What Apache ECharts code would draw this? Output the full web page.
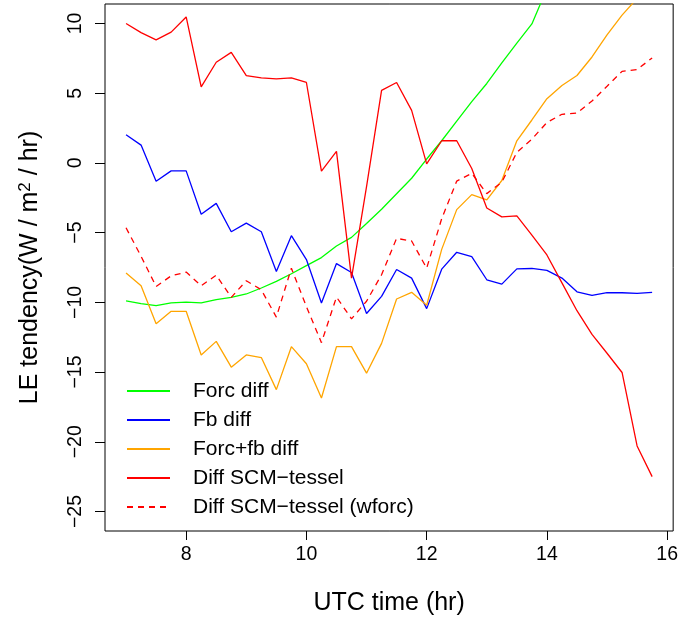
<!DOCTYPE html>
<html>
<head>
<meta charset="utf-8">
<title>LE tendency</title>
<script src="https://cdn.jsdelivr.net/npm/echarts@6/dist/echarts.min.js"></script>
<style>
    html, body { margin: 0; padding: 0; background: #fff; }
    #chart { width: 681px; height: 621px; }
</style>
</head>
<body>
<div id="chart"></div>
<script>
    // time axis (UTC hr), every 15 min from 7 to 15.75
    var times = [7, 7.25, 7.5, 7.75, 8, 8.25, 8.5, 8.75, 9, 9.25, 9.5, 9.75,
        10, 10.25, 10.5, 10.75, 11, 11.25, 11.5, 11.75, 12, 12.25, 12.5, 12.75,
        13, 13.25, 13.5, 13.75, 14, 14.25, 14.5, 14.75, 15, 15.25, 15.5, 15.75];
    var xTicks = [8, 10, 12, 14, 16];
    var yTicks = [-25, -20, -15, -10, -5, 0, 5, 10];

    var forcDiff = [-9.9, -10.09, -10.23, -10.04, -9.99, -10.04, -9.8, -9.64, -9.4, -8.97,
        -8.5, -7.95, -7.37, -6.79, -5.96, -5.34, -4.34, -3.32, -2.21, -1.1,
        0.28, 1.59, 3.0, 4.4, 5.7, 7.17, 8.6, 9.97, 12.5, null,
        null, null, null, null, null, null];
    var fbDiff = [2.02, 1.28, -1.31, -0.57, -0.57, -3.68, -2.9, -4.94, -4.32, -4.94,
        -7.79, -5.22, -6.93, -10.04, -7.22, -7.86, -10.8, -9.57, -7.64, -8.26,
        -10.45, -7.62, -6.41, -6.72, -8.38, -8.69, -7.6, -7.57, -7.71, -8.26,
        -9.24, -9.5, -9.31, -9.31, -9.35, -9.28];
    var forcFbDiff = [-7.9, -8.81, -11.54, -10.64, -10.64, -13.77, -12.8, -14.65, -13.77, -13.96,
        -16.26, -13.18, -14.4, -16.86, -13.18, -13.18, -15.08, -12.94, -9.76, -9.28,
        -10.21, -6.2, -3.35, -2.27, -2.65, -1.26, 1.59, 3.08, 4.61, 5.56,
        6.27, 7.6, 9.19, 10.6, 11.8, null];
    var scmTessel = [10.0, 9.35, 8.83, 9.38, 10.47, 5.46, 7.22, 7.93, 6.27, 6.10,
        6.03, 6.10, 5.77, -0.59, 0.83, -8.26, -1.7, 5.2, 5.77, 3.77,
        -0.07, 1.59, 1.59, -0.4, -3.23, -3.87, -3.8, -5.18, -6.6, -8.6,
        -10.6, -12.3, -13.65, -15.03, -20.3, -22.5];
    var scmTesselWforc = [-4.65, -6.7, -8.86, -8.1, -7.83, -8.81, -8.05, -9.64, -8.45, -9.1,
        -11.06, -7.55, -10.3, -12.89, -9.62, -11.18, -9.92, -8.02, -5.41, -5.6,
        -7.55, -4.0, -1.3, -0.75, -2.2, -1.38, 0.76, 1.71, 2.9, 3.49,
        3.58, 4.44, 5.5, 6.57, 6.7, 7.53];

    var FONT = 'Liberation Sans, Arial, sans-serif';

    function pairs(vals) {
        return times.map(function (t, i) { return [t, vals[i]]; });
    }
    function minus(v) {
        return String(v).replace('-', '\u2212');
    }
    function line(name, vals, color, dashed) {
        return {
            name: name,
            type: 'line',
            data: pairs(vals),
            symbol: 'none',
            animation: false,
            lineStyle: { color: color, width: 1.3, type: dashed ? [6, 5] : 'solid' },
            itemStyle: { color: color }
        };
    }

    var chart = echarts.init(document.getElementById('chart'));
    var option = {
        backgroundColor: '#fff',
        animation: false,
        grid: {
            left: 105, right: 7, top: 4, bottom: 88,
            show: true, borderColor: '#000', borderWidth: 1
        },
        legend: {
            orient: 'vertical',
            left: 126,
            top: 379,
            padding: 0,
            itemWidth: 43,
            itemHeight: 2,
            itemGap: 5,
            itemStyle: { opacity: 0 },
            textStyle: { fontFamily: FONT, fontSize: 21, color: '#000', lineHeight: 24, padding: [0, 0, 0, 18] },
            data: ['Forc diff', 'Fb diff', 'Forc+fb diff', 'Diff SCM\u2212tessel', 'Diff SCM\u2212tessel (wforc)']
        },
        xAxis: {
            type: 'value',
            min: 6.65,
            max: 16.1,
            name: 'UTC time (hr)',
            nameLocation: 'middle',
            nameGap: 60,
            nameTextStyle: { fontFamily: FONT, fontSize: 25, color: '#000' },
            axisLine: { show: false, onZero: false },
            axisTick: { show: true, length: 9, customValues: xTicks, lineStyle: { color: '#000' } },
            axisLabel: { customValues: xTicks, margin: 14, fontFamily: FONT, fontSize: 19.5, color: '#000' },
            splitLine: { show: false }
        },
        yAxis: {
            type: 'value',
            min: -26.4,
            max: 11.4,
            name: 'LE tendency(W / m{sup|2} / hr)',
            nameLocation: 'middle',
            nameRotate: 90,
            nameGap: 61,
            nameTextStyle: {
                fontFamily: FONT, fontSize: 25, color: '#000',
                rich: { sup: { fontFamily: FONT, fontSize: 17, color: '#000', verticalAlign: 'top', padding: [0, 0, 10, 0] } }
            },
            axisLine: { show: false, onZero: false },
            axisTick: { show: true, length: 10, customValues: yTicks, lineStyle: { color: '#000' } },
            axisLabel: {
                customValues: yTicks, rotate: 90, margin: 19,
                fontFamily: FONT, fontSize: 19.5, color: '#000',
                formatter: minus
            },
            splitLine: { show: false }
        },
        series: [
            line('Forc diff', forcDiff, '#00ff00', false),
            line('Fb diff', fbDiff, '#0000ff', false),
            line('Forc+fb diff', forcFbDiff, '#ffa500', false),
            line('Diff SCM\u2212tessel', scmTessel, '#ff0000', false),
            line('Diff SCM\u2212tessel (wforc)', scmTesselWforc, '#ff0000', true)
        ]
    };
    chart.setOption(option);
</script>
</body>
</html>
